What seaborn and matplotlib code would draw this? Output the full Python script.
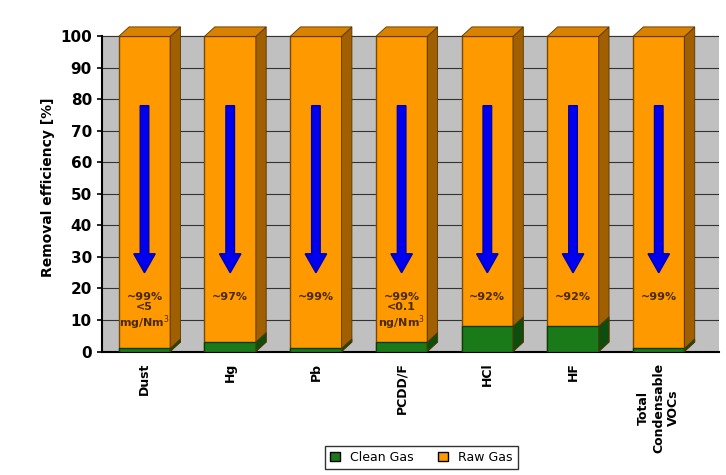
import matplotlib.pyplot as plt
import seaborn as sns
import numpy as np
import pandas as pd
from matplotlib.patches import Polygon, FancyArrow, Patch

categories = ['Dust', 'Hg', 'Pb', 'PCDD/F', 'HCl', 'HF', 'Total\nCondensable\nVOCs']
clean_gas = [1, 3, 1, 3, 8, 8, 1]
total = [100, 100, 100, 100, 100, 100, 100]
labels = ['~99%\n<5\nmg/Nm$^3$', '~97%', '~99%', '~99%\n<0.1\nng/Nm$^3$', '~92%', '~92%', '~99%']

df = pd.DataFrame({'cat': categories, 'clean': clean_gas, 'total': total})

fig = plt.figure(figsize=(7.26, 4.75), dpi=100)
ax = fig.add_axes([0.14, 0.26, 0.85, 0.69])
ax.set_facecolor('none')

sns.barplot(data=df, x='cat', y='total', color='#ff9900', edgecolor='#7a4a00',
            width=0.6, saturation=1, ax=ax, zorder=3)
sns.barplot(data=df, x='cat', y='clean', color='#1a7a1a', edgecolor='#0b3d0b',
            width=0.6, saturation=1, ax=ax, zorder=4)

# grey back wall up to 100
ax.axhspan(0, 100, color='#c0c0c0', zorder=0)

# fake 3D side faces
n = len(categories)
dx, dy = 0.12, 3
for i, p in enumerate(list(ax.patches)[:2 * n]):
    x0, y0, w, h = p.get_x(), p.get_y(), p.get_width(), p.get_height()
    col = '#a05f00' if i < n else '#0d4d0d'
    z = 3 if i < n else 4
    ax.add_patch(Polygon([(x0 + w, y0), (x0 + w + dx, y0 + dy), (x0 + w + dx, y0 + h + dy), (x0 + w, y0 + h)],
                         closed=True, fc=col, ec='#5a3500', lw=0.6, zorder=z))
    if i < n:
        ax.add_patch(Polygon([(x0, y0 + h), (x0 + dx, y0 + h + dy), (x0 + w + dx, y0 + h + dy), (x0 + w, y0 + h)],
                             closed=True, fc='#d98200', ec='#5a3500', lw=0.6, zorder=3))

for i, t in enumerate(labels):
    ax.add_patch(FancyArrow(i, 78, 0, -53, width=0.1, head_width=0.25, head_length=6,
                            length_includes_head=True, fc='#0000ee', ec='#0000aa', zorder=6))
    ax.text(i, 19, t, ha='center', va='top', fontsize=8, fontweight='bold',
            color='#4a2a00', zorder=7, linespacing=1.1)

ax.set_ylim(0, 104)
ax.set_xlim(-0.5, 6.7)
ax.set_yticks(range(0, 101, 10))
ax.grid(False)
for yv in range(10, 101, 10):
    ax.axhline(yv, color='#333333', lw=0.8, zorder=1)
ax.tick_params(axis='y', labelsize=11, width=1.2)
for lab in ax.get_yticklabels():
    lab.set_fontweight('bold')
ax.set_xticks(range(n))
ax.set_xticklabels(categories, rotation=90, fontsize=9, fontweight='bold', va='top')
ax.tick_params(axis='x', length=0, pad=8)
ax.set_xlabel('')
ax.set_ylabel('Removal efficiency [%]', fontsize=10, fontweight='bold')
for s in ['top', 'right']:
    ax.spines[s].set_visible(False)
ax.spines['left'].set_bounds(0, 100)
ax.spines['left'].set_linewidth(1.5)
ax.spines['bottom'].set_linewidth(1.5)

fig.legend(handles=[Patch(fc='#1a7a1a', ec='k', label='Clean Gas'),
                    Patch(fc='#ff9900', ec='k', label='Raw Gas')],
           loc='lower center', bbox_to_anchor=(0.58, 0.0), ncol=2, fontsize=9,
           frameon=True, edgecolor='black', fancybox=False, handlelength=0.8, columnspacing=2)

fig.savefig('out.png', dpi=100)
